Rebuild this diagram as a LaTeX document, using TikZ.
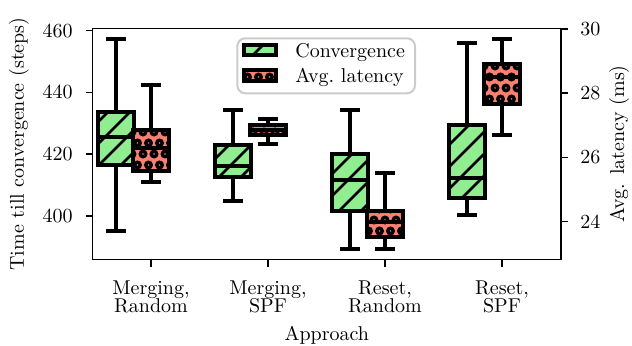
\documentclass[tikz,border=0pt]{standalone}
\usepackage{tikz}
\definecolor{lgreen}{RGB}{144,238,144}
\definecolor{salmon}{RGB}{250,128,114}
\definecolor{legframe}{RGB}{204,204,204}
\tikzset{
  lw/.style={line width=2pt},
  axisline/.style={line width=0.8pt},
  hatchline/.style={line width=1.4pt},
  dotline/.style={line width=1.7pt},
  lbl/.style={inner sep=0pt},
}
\newcommand\diaghatch[4]{%
  \begin{scope}
    \clip ({#1},{#2}) rectangle ({#3},{#4});
    \foreach \hk in {0,...,46}{\draw[hatchline] ({22*\hk},0) -- ({22*\hk-400},400);}
  \end{scope}}
\newcommand\dothatch[4]{%
  \begin{scope}
    \clip ({#1},{#2}) rectangle ({#3},{#4});
    \pgfmathtruncatemacro\hra{floor((#2)/11)-1}
    \pgfmathtruncatemacro\hrb{floor((#4)/11)+1}
    \pgfmathtruncatemacro\hca{floor((#1)/11)-1}
    \pgfmathtruncatemacro\hcb{floor((#3)/11)+1}
    \foreach \hr in {\hra,...,\hrb}{\foreach \hc in {\hca,...,\hcb}{%
      \pgfmathsetmacro\hx{11*\hc+5.5*mod(\hr,2)}
      \draw[dotline] (\hx,{11*\hr}) circle (2.7);}}
  \end{scope}}
% #1 cx, #2 whisker top, #3 box top, #4 median, #5 box bottom, #6 whisker bottom
\newcommand\convbox[6]{%
  \draw[lw] (#1,#2) -- (#1,#3);
  \draw[lw] (#1,#5) -- (#1,#6);
  \draw[lw] ({#1-10},#2) -- ({#1+10},#2);
  \draw[lw] ({#1-10},#6) -- ({#1+10},#6);
  \fill[lgreen] ({#1-18},#3) rectangle ({#1+18},#5);
  \diaghatch{#1-18}{#3}{#1+18}{#5}
  \draw[lw] ({#1-18},#3) rectangle ({#1+18},#5);
  \draw[lw] ({#1-18},#4) -- ({#1+18},#4);}
\newcommand\latbox[6]{%
  \draw[lw] (#1,#2) -- (#1,#3);
  \draw[lw] (#1,#5) -- (#1,#6);
  \draw[lw] ({#1-10},#2) -- ({#1+10},#2);
  \draw[lw] ({#1-10},#6) -- ({#1+10},#6);
  \fill[salmon] ({#1-18},#3) rectangle ({#1+18},#5);
  \dothatch{#1-18}{#3}{#1+18}{#5}
  \draw[lw] ({#1-18},#3) rectangle ({#1+18},#5);
  \draw[lw] ({#1-18},#4) -- ({#1+18},#4);}
\begin{document}
\begin{tikzpicture}[x=0.5pt,y=-0.5pt]
\useasboundingbox (0,0) rectangle (632,346);
% convergence boxes
\convbox{116}{39}{112}{137.3}{164.7}{230.7}
\convbox{233}{110}{144.7}{165.7}{177.3}{201}
\convbox{350}{110}{153.7}{180}{211.3}{249}
\convbox{467}{43.3}{125.3}{178.3}{198}{215}
% latency boxes
\latbox{151}{85}{130.3}{148.3}{171.3}{182.5}
\latbox{268}{119}{125.3}{130}{134.7}{144.3}
\latbox{385}{172.8}{211.3}{221.7}{237}{249}
\latbox{502}{39}{64.3}{76.7}{103.7}{135}
% frame
\draw[axisline] (92.5,28.6) rectangle (561,259.6);
% left ticks
\foreach \v/\yy in {460/30.7,440/92.4,420/154.1,400/215.8}{
  \draw[axisline] (92.5,\yy) -- (85.5,\yy);
  \node[lbl,anchor=east] (l\v) at (73,\yy) {\v};}
% right ticks
\foreach \v/\yy in {30/29.1,28/93.3,26/157.5,24/221.7}{
  \draw[axisline] (561,\yy) -- (568,\yy);
  \node[lbl,anchor=west] (r\v) at (580,\yy) {\v};}
% bottom ticks
\foreach \xx/\t/\n in {151/{Merging,\\[-2.8pt]Random}/a,268/{Merging,\\[-2.8pt]SPF}/b,385/{Reset,\\[-2.8pt]Random}/c,502/{Reset,\\[-2.8pt]SPF}/d}{
  \draw[axisline] (\xx,259.6) -- (\xx,266.6);
  \node[lbl,anchor=north,align=center] (x\n) at (\xx,280) {\t};}
\node[lbl,anchor=base] (xlab) at (326.8,341) {Approach};
\node[lbl,rotate=90] (ylab) at (19,144) {Time till convergence (steps)};
\node[lbl,rotate=90] (y2lab) at (619,144) {Avg. latency (ms)};
% legend
\draw[legframe,line width=1pt,fill=white,fill opacity=0.8,rounded corners=4] (237.3,38.3) rectangle (415,93.3);
\fill[lgreen] (243.7,45.3) rectangle (276.3,55.3);
\diaghatch{243.7}{45.3}{276.3}{55.3}
\draw[lw] (243.7,45.3) rectangle (276.3,55.3);
\fill[salmon] (243.7,70.3) rectangle (276.3,80.7);
\dothatch{243.7}{70.3}{276.3}{80.7}
\draw[lw] (243.7,70.3) rectangle (276.3,80.7);
\node[lbl,anchor=base west] (lg1) at (295,58) {Convergence};
\node[lbl,anchor=base west] (lg2) at (295,83) {Avg.\ latency};
\end{tikzpicture}
\end{document}
